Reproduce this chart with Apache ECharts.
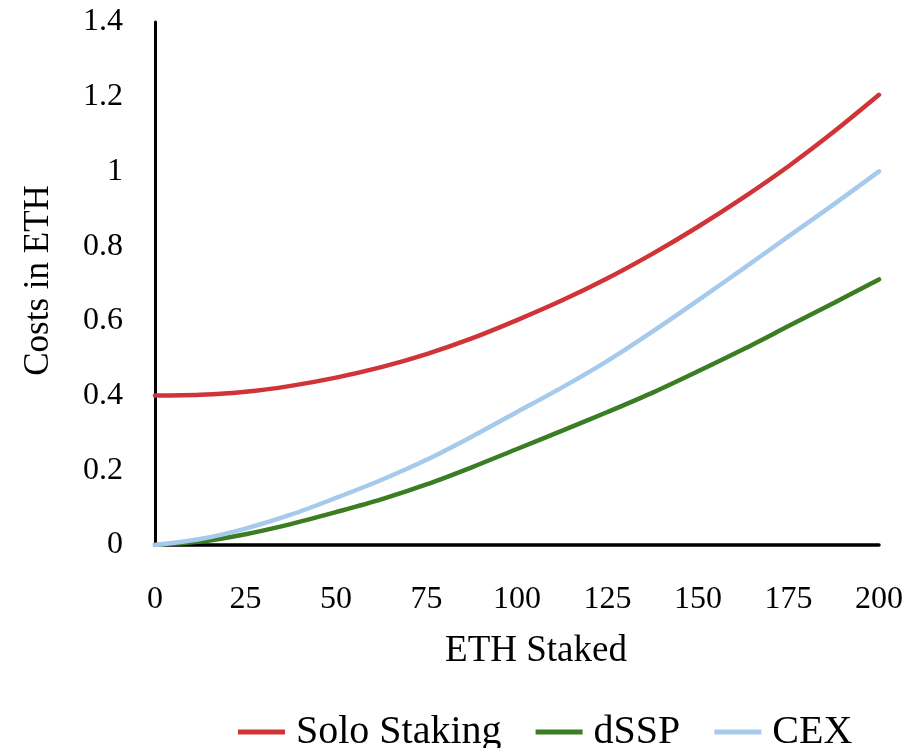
<!DOCTYPE html>
<html>
<head>
<meta charset="utf-8">
<script src="https://cdn.jsdelivr.net/npm/echarts@6/dist/echarts.min.js"></script>
<style>
html,body{margin:0;padding:0;background:#fff;}
#chart{width:924px;height:748px;}
</style>
</head>
<body>
<div id="chart"></div>
<script>
var ethStaked = [0, 12.5, 25, 37.5, 50, 62.5, 75, 87.5, 100, 112.5, 125, 137.5, 150, 162.5, 175, 187.5, 200];
var soloStaking = [0.40, 0.402, 0.41, 0.426, 0.448, 0.476, 0.511, 0.553, 0.602, 0.655, 0.714, 0.78, 0.852, 0.93, 1.014, 1.106, 1.205];
var dSSP = [0, 0.009, 0.029, 0.056, 0.088, 0.122, 0.162, 0.208, 0.257, 0.306, 0.356, 0.408, 0.465, 0.524, 0.586, 0.648, 0.711];
var cex = [0, 0.016, 0.044, 0.081, 0.126, 0.174, 0.228, 0.29, 0.356, 0.422, 0.493, 0.572, 0.655, 0.74, 0.826, 0.912, 1.0];
var seriesNames = ['Solo Staking', 'dSSP', 'CEX'];
var seriesColors = ['#D13438', '#3B7D23', '#A6CAEC'];

function pairs(ys) { return ethStaked.map(function (x, i) { return [x, ys[i]]; }); }

var font = 'Liberation Serif';
var chart = echarts.init(document.getElementById('chart'), null, {renderer: 'canvas'});
var seriesData = [soloStaking, dSSP, cex];
chart.setOption({
  animation: false,
  backgroundColor: '#fff',
  grid: {left: 155, right: 45, top: 22, bottom: 203},
  legend: {
    bottom: -9,
    left: 233,
    itemWidth: 47,
    itemHeight: 14,
    itemGap: 34,
    icon: 'path://M0,4.5 L47,4.5 L47,9.5 L0,9.5 Z',
    textStyle: {fontFamily: font, fontSize: 40, color: '#000', padding: [0, 0, 0, 6]},
    data: seriesNames
  },
  xAxis: {
    type: 'value', min: 0, max: 200, interval: 25,
    name: 'ETH Staked', nameLocation: 'middle', nameGap: 88,
    nameTextStyle: {fontFamily: font, fontSize: 37, color: '#000', padding: [0, 0, 0, 38]},
    axisLine: {show: true, lineStyle: {color: '#000', width: 3.5}},
    axisTick: {show: false},
    splitLine: {show: false},
    axisLabel: {fontFamily: font, fontSize: 32, color: '#000', margin: 39}
  },
  yAxis: {
    type: 'value', min: 0, max: 1.4, interval: 0.2,
    name: 'Costs in ETH', nameLocation: 'middle', nameGap: 99,
    nameTextStyle: {fontFamily: font, fontSize: 35, color: '#000', padding: [0, 0, 0, 6]},
    axisLine: {show: true, lineStyle: {color: '#000', width: 3}},
    axisTick: {show: false},
    splitLine: {show: false},
    axisLabel: {fontFamily: font, fontSize: 32, color: '#000', margin: 32}
  },
  series: seriesNames.map(function (n, i) {
    return {
      name: n, type: 'line', data: pairs(seriesData[i]),
      smooth: 0.3, symbol: 'none',
      lineStyle: {color: seriesColors[i], width: 4.5, cap: 'round'},
      itemStyle: {color: seriesColors[i]}
    };
  })
});
</script>
</body>
</html>
